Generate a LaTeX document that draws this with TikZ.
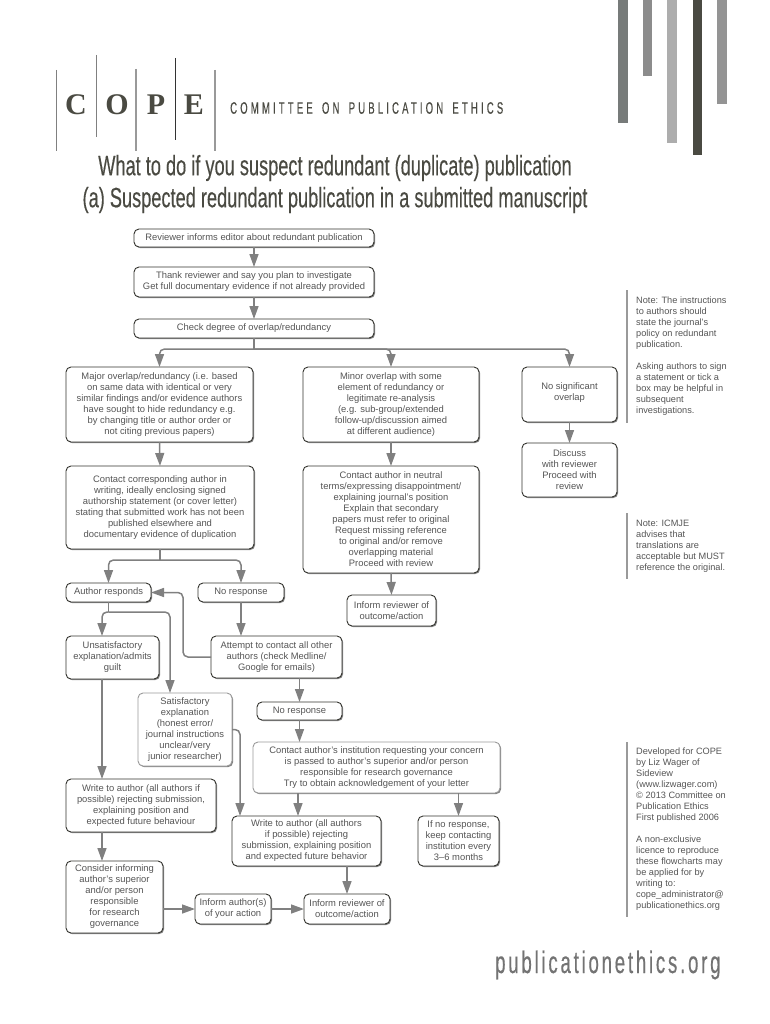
\documentclass[tikz,border=0pt]{standalone}
\usepackage{fontspec}
\setmainfont{Liberation Sans}
\newfontfamily\condfont[FakeStretch=0.65,FakeBold=0.25]{Liberation Sans}
\newfontfamily\condspaced[FakeStretch=0.58,LetterSpace=19,WordSpace=1.6,FakeBold=0.25]{Liberation Sans}
\newfontfamily\urlfont[FakeStretch=0.6,LetterSpace=9,FakeBold=0.4]{Liberation Sans}
\newfontfamily\logofont{Liberation Serif}
\usetikzlibrary{arrows.meta,shadows}
\definecolor{bodytext}{HTML}{555555}
\definecolor{inkdark}{HTML}{33332E}
\definecolor{linegray}{HTML}{808080}
\definecolor{headgray}{HTML}{4A4A42}
\definecolor{softgray}{HTML}{9A9A9A}
\definecolor{stripeone}{HTML}{777B7A}
\tikzset{
  flowbox/.style={draw=inkdark,line width=.9pt,fill=white,rounded corners=5pt,align=center,inner sep=0pt,outer sep=0pt,
    text=bodytext,font=\fontsize{9.4}{11}\selectfont,
    drop shadow={shadow xshift=1.1pt,shadow yshift=-1.1pt,fill=black!70,opacity=.7}},
  softbox/.style={flowbox,draw=softgray},
  link/.style={draw=linegray,line width=1.5pt,rounded corners=5pt},
  arrowlink/.style={link,-{Triangle[length=13pt,width=9pt,fill=linegray]}},
  notebar/.style={draw=softgray,line width=1.1pt},
  notetext/.style={anchor=north west,align=left,inner sep=0pt,text=bodytext,font=\fontsize{9.2}{11}\selectfont},
  logoletter/.style={text=headgray,font=\logofont\bfseries\fontsize{30}{30}\selectfont,inner sep=0pt},
  logoline/.style={line width=1.2pt},
  stripe/.style={draw=none},
  titletext/.style={text=headgray,font=\condfont\fontsize{28}{28}\selectfont,inner sep=0pt},
}
\begin{document}
\begin{tikzpicture}[x=1pt,y=-1pt]
\useasboundingbox (0,0) rectangle (770,1024);
% stripes
\fill[stripe,fill=stripeone] (618,0) rectangle (627.5,123);
\fill[stripe,fill=black!45] (642.5,0) rectangle (652,76);
\fill[stripe,fill=black!32] (667,0) rectangle (677,143);
\fill[stripe,fill=headgray] (692.5,0) rectangle (702,155);
\fill[stripe,fill=black!42] (717,0) rectangle (727,104);
% logo
\draw[logoline,draw=black!50] (56.5,70) -- (56.5,151);
\draw[logoline,draw=black!50] (96.5,55) -- (96.5,137);
\draw[logoline,draw=black!40] (136,69) -- (136,151);
\draw[logoline,draw=black!80] (175.5,58) -- (175.5,140);
\draw[logoline,draw=black!40] (215,70) -- (215,151);
\node[logoletter] (lc) at (76,105) {C};
\node[logoletter] (lo) at (117,105) {O};
\node[logoletter] (lp) at (156,105) {P};
\node[logoletter] (le) at (194,105) {E};
\node[anchor=west,inner sep=0pt,text=headgray,font=\condspaced\fontsize{16.5}{16.5}\selectfont] (cope) at (230,108) {COMMITTEE ON PUBLICATION ETHICS};
\node[titletext] (t1) at (335,168) {What to do if you suspect redundant (duplicate) publication};
\node[titletext] (t2) at (335,200) {(a) Suspected redundant publication in a submitted manuscript};
% boxes
\node[flowbox,minimum width=240pt,minimum height=18pt] (b1) at (254,238) {Reviewer informs editor about redundant publication};
\node[flowbox,minimum width=240pt,minimum height=30pt] (b2) at (254,282) {Thank reviewer and say you plan to investigate\\Get full documentary evidence if not already provided};
\node[flowbox,minimum width=240pt,minimum height=19pt] (b3) at (254,328.5) {Check degree of overlap/redundancy};
\node[flowbox,minimum width=187pt,minimum height=75pt] (major) at (159.5,404.5) {Major overlap/redundancy (i.e. based\\on same data with identical or very\\similar findings and/or evidence authors\\have sought to hide redundancy e.g.\\by changing title or author order or\\not citing previous papers)};
\node[flowbox,minimum width=176pt,minimum height=75pt] (minor) at (391,404.5) {Minor overlap with some\\element of redundancy or\\legitimate re-analysis\\(e.g. sub-group/extended\\follow-up/discussion aimed\\at different audience)};
\node[flowbox,minimum width=95pt,minimum height=55pt] (nosig) at (569.5,394.5) {No significant\\overlap\\[-5pt]};
\node[flowbox,minimum width=95pt,minimum height=54pt] (discuss) at (569.5,470) {Discuss\\with reviewer\\Proceed with\\review};
\node[flowbox,minimum width=188pt,minimum height=83pt] (contact) at (160,507.5) {Contact corresponding author in\\writing, ideally enclosing signed\\authorship statement (or cover letter)\\stating that submitted work has not been\\published elsewhere and\\documentary evidence of duplication};
\node[flowbox,minimum width=176pt,minimum height=107pt] (neutral) at (391,519.5) {Contact author in neutral\\terms/expressing disappointment/\\explaining journal’s position\\Explain that secondary\\papers must refer to original\\Request missing reference\\to original and/or remove\\overlapping material\\Proceed with review};
\node[flowbox,minimum width=89pt,minimum height=31pt] (informa) at (391.5,610.5) {Inform reviewer of\\outcome/action};
\node[flowbox,minimum width=85pt,minimum height=19pt] (authresp) at (108.5,592.5) {Author responds};
\node[flowbox,minimum width=86pt,minimum height=19pt] (noresp) at (241,592.5) {No response};
\node[flowbox,minimum width=93pt,minimum height=43pt] (unsat) at (112.5,657.5) {Unsatisfactory\\explanation/admits\\guilt};
\node[flowbox,minimum width=131pt,minimum height=42pt] (attempt) at (276.5,657) {Attempt to contact all other\\authors (check Medline/\\Google for emails)};
\node[softbox,minimum width=94pt,minimum height=73pt] (satis) at (185,729.5) {Satisfactory\\explanation\\(honest error/\\journal instructions\\unclear/very\\junior researcher)};
\node[flowbox,minimum width=85pt,minimum height=18pt] (noresptwo) at (299.5,711) {No response};
\node[softbox,minimum width=247pt,minimum height=51pt] (inst) at (376.5,767.5) {Contact author’s institution requesting your concern\\is passed to author’s superior and/or person\\responsible for research governance\\Try to obtain acknowledgement of your letter};
\node[flowbox,minimum width=150pt,minimum height=53pt] (writeone) at (141,805.5) {Write to author (all authors if\\possible) rejecting submission,\\explaining position and\\expected future behaviour};
\node[flowbox,minimum width=149pt,minimum height=50pt] (writetwo) at (306.5,841) {Write to author (all authors\\if possible) rejecting\\submission, explaining position\\and expected future behavior};
\node[flowbox,minimum width=81pt,minimum height=50pt] (ifno) at (458.5,841) {If no response,\\keep contacting\\institution every\\3–6 months};
\node[flowbox,minimum width=97pt,minimum height=72pt] (consider) at (114.5,897) {Consider informing\\author’s superior\\and/or person\\responsible\\for research\\governance};
\node[flowbox,minimum width=76pt,minimum height=30pt] (iauth) at (233,909) {Inform author(s)\\of your action};
\node[flowbox,minimum width=86pt,minimum height=30pt] (irev) at (347,909) {Inform reviewer of\\outcome/action};
% guide coordinates
\coordinate (jtop) at (254,349);
\coordinate (jmid) at (160,560);
\coordinate (jauth) at (108.5,612);
\coordinate (xleft) at (102,0);
\coordinate (xsat) at (170,0);
\coordinate (xback) at (183,620);
\coordinate (xsatdown) at (240,0);
\coordinate (xinst) at (298,0);
% connectors
\draw[arrowlink] (b1) -- (b2);
\draw[arrowlink] (b2) -- (b3);
\draw[link] (b3.south) -- (jtop);
\draw[arrowlink] (jtop) -| (major.north);
\draw[arrowlink] (jtop) -| (minor.north);
\draw[arrowlink] (jtop) -| (nosig.north);
\draw[arrowlink] (major.south) -- (contact.north);
\draw[arrowlink] (minor.south) -- (neutral.north);
\draw[arrowlink] (nosig.south) -- (discuss.north);
\draw[arrowlink] (neutral.south) -- (informa.north);
\draw[link] (contact.south) -- (jmid);
\draw[arrowlink] (jmid) -| (authresp.north);
\draw[arrowlink] (jmid) -| (noresp.north);
\draw[link] (authresp.south) -- (jauth);
\draw[arrowlink] (jauth) -| (xleft |- unsat.north);
\draw[arrowlink] (jauth) -| (xsat |- satis.north);
\draw[arrowlink] (xleft |- unsat.south) -- (xleft |- writeone.north);
\draw[arrowlink] (xleft |- writeone.south) -- (xleft |- consider.north);
\draw[arrowlink] (iauth.west -| consider.east) -- (iauth.west);
\draw[arrowlink] (iauth.east) -- (irev.west);
\draw[arrowlink] (noresp.south) -- (noresp.south |- attempt.north);
\draw[arrowlink] (attempt.west) -| (xback) |- (authresp.east);
\draw[arrowlink] (noresptwo.north |- attempt.south) -- (noresptwo.north);
\draw[arrowlink] (noresptwo.south) -- (noresptwo.south |- inst.north);
\draw[arrowlink] (xinst |- inst.south) -- (xinst |- writetwo.north);
\draw[arrowlink] (ifno.north |- inst.south) -- (ifno.north);
\draw[arrowlink] (satis.east) -| (xsatdown |- writetwo.north);
\draw[arrowlink] (irev.north |- writetwo.south) -- (irev.north);
% notes
\draw[notebar] (627,290) -- (627,423);
\draw[notebar] (627,513) -- (627,579);
\draw[notebar] (627,742) -- (627,917);
\node[notetext] (noteone) at (636,297) {Note: The instructions\\to authors should\\state the journal’s\\policy on redundant\\publication.\\[11pt]Asking authors to sign\\a statement or tick a\\box may be helpful in\\subsequent\\investigations.};
\node[notetext] (notetwo) at (636,520) {Note: ICMJE\\advises that\\translations are\\acceptable but MUST\\reference the original.};
\node[notetext] (notethree) at (636,748) {Developed for COPE\\by Liz Wager of\\Sideview\\(www.lizwager.com)\\© 2013 Committee on\\Publication Ethics\\First published 2006\\[11pt]A non-exclusive\\licence to reproduce\\these flowcharts may\\be applied for by\\writing to:\\cope\_administrator@\\publicationethics.org};
\node[anchor=base west,inner sep=0pt,text=black!55,font=\urlfont\fontsize{31}{31}\selectfont] (site) at (495,973) {publicationethics.org};
\end{tikzpicture}
\end{document}
